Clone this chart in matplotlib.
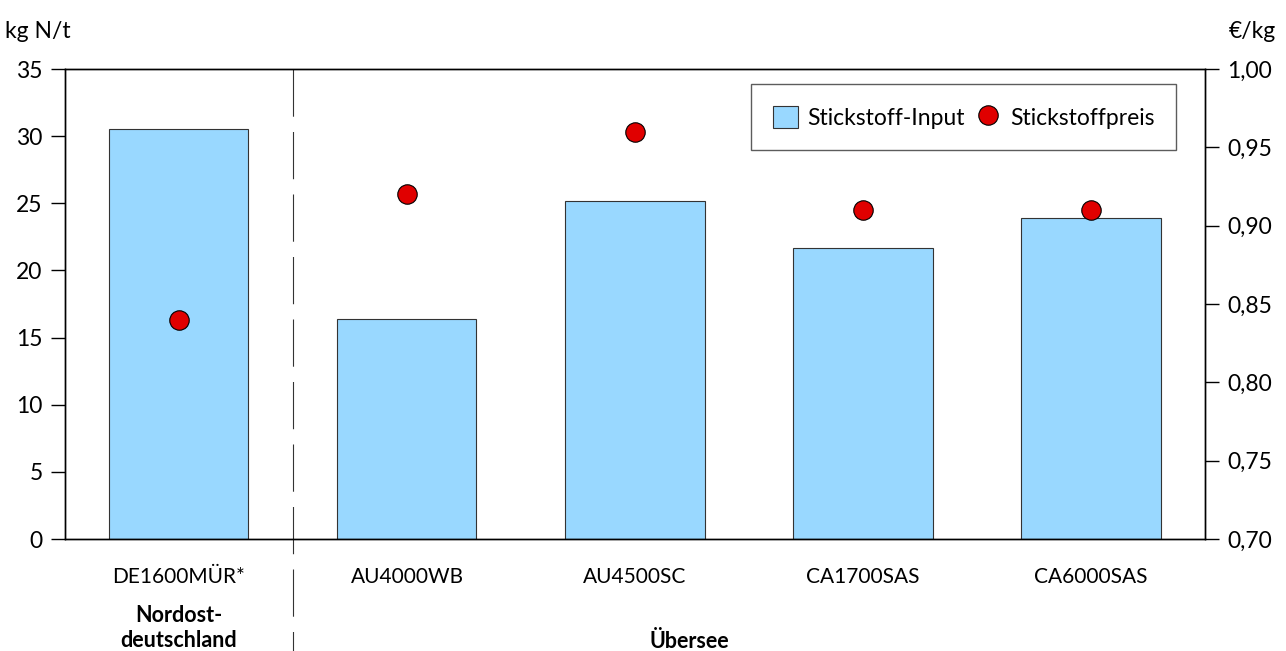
import matplotlib
matplotlib.use("Agg")
import matplotlib.pyplot as plt
from matplotlib.patches import Patch
from matplotlib.lines import Line2D

plt.rcParams['font.family'] = ['Lato', 'DejaVu Sans']
plt.rcParams['lines.scale_dashes'] = False

# data
farms = ["DE1600MÜR*", "AU4000WB", "AU4500SC", "CA1700SAS", "CA6000SAS"]
n_input = [30.5, 16.4, 25.2, 21.7, 23.9]        # kg N/t
n_price = [0.84, 0.92, 0.96, 0.91, 0.91]        # €/kg
left_ticks = [0, 5, 10, 15, 20, 25, 30, 35]
right_ticks = [0.70, 0.75, 0.80, 0.85, 0.90, 0.95, 1.00]

fig = plt.figure(figsize=(12.86, 6.51), dpi=100)
ax = fig.add_axes([0.0505, 0.172, 0.8865, 0.722])
ax2 = ax.twinx()

x = list(range(len(farms)))
ax.bar(x, n_input, width=0.61, color='#99D8FF', edgecolor='#333333', linewidth=0.8, zorder=2)
ax2.plot(x, n_price, 'o', color='#E00000', markeredgecolor='black', markeredgewidth=0.8,
         markersize=14, zorder=3)

ax.set_xlim(-0.5, 4.5)
ax.set_ylim(0, 35)
ax2.set_ylim(0.70, 1.00)
ax.set_yticks(left_ticks)
ax.set_yticklabels([str(t) for t in left_ticks])
ax2.set_yticks(right_ticks)
ax2.set_yticklabels([f"{t:.2f}".replace('.', ',') for t in right_ticks])

ax.set_xticks(x)
ax.set_xticklabels(farms, fontsize=15)
ax.tick_params(axis='x', length=0, pad=20)
ax.tick_params(axis='y', labelsize=16.5, length=10, width=1, direction='out', pad=6)
ax2.tick_params(axis='y', labelsize=16.5, length=10, width=1, direction='out', pad=6)

for a in (ax, ax2):
    for s in a.spines.values():
        s.set_color('black')
        s.set_linewidth(1)

# dashed separator between the two groups
ax.plot([0.5, 0.5], [1.0, -0.24], transform=ax.get_xaxis_transform(), color='#333333',
        linewidth=0.8, dashes=(34, 11), clip_on=False, zorder=1)

# group labels
ax.text(0, -0.14, "Nordost-\ndeutschland", transform=ax.get_xaxis_transform(),
        ha='center', va='top', fontsize=15.5, fontweight='bold', linespacing=1.25)
ax.text(2.24, -0.195, "Übersee", transform=ax.get_xaxis_transform(),
        ha='center', va='top', fontsize=15.5, fontweight='bold')

fig.text(0.004, 0.952, "kg N/t", fontsize=16.5, ha='left', va='center')
fig.text(0.992, 0.952, "€/kg", fontsize=16.5, ha='right', va='center')

handles = [Patch(facecolor='#99D8FF', edgecolor='#333333', linewidth=0.8),
           Line2D([], [], marker='o', linestyle='none', color='#E00000',
                  markeredgecolor='black', markeredgewidth=0.8, markersize=14)]
leg = ax2.legend(handles, ["Stickstoff-Input", "Stickstoffpreis"], ncol=2,
                 loc='upper right', bbox_to_anchor=(0.975, 0.968), borderaxespad=0,
                 fontsize=16.5, frameon=True, fancybox=False, edgecolor='#333333',
                 borderpad=0.95, handlelength=1.1, handleheight=1.1, handletextpad=0.4,
                 columnspacing=0.5)
leg.get_frame().set_linewidth(1)

fig.savefig("out.png", dpi=100)
